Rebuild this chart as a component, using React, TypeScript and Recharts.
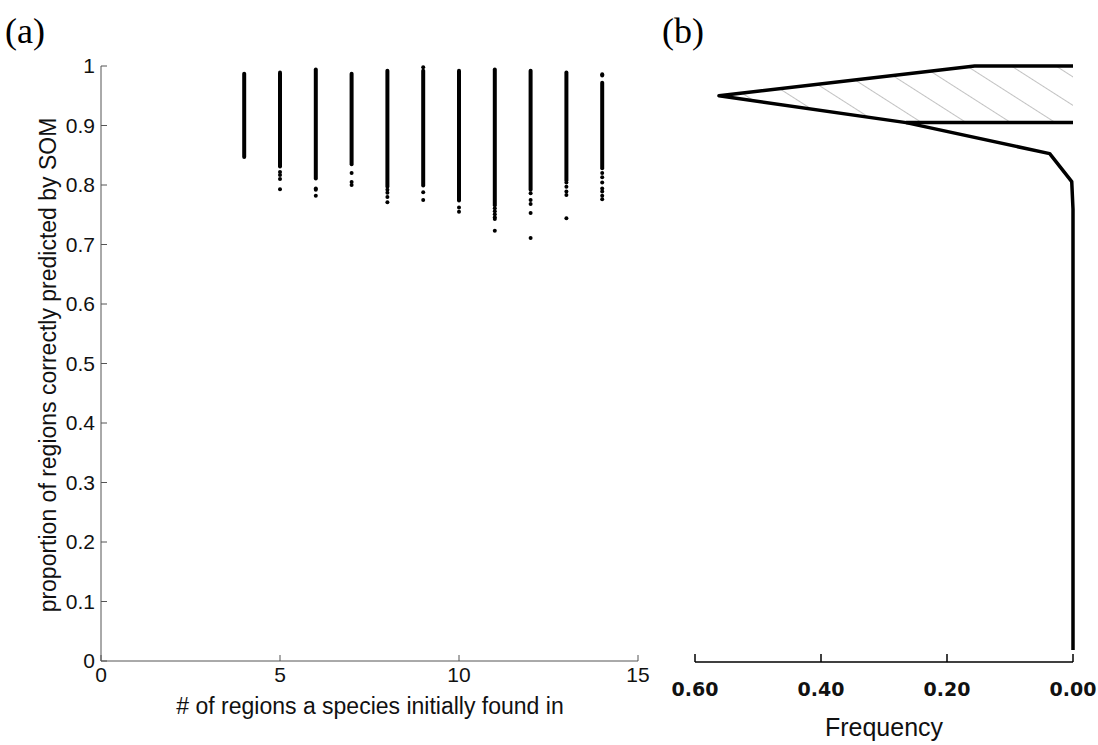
import React from 'react';
import { ScatterChart, Scatter, XAxis, YAxis } from 'recharts';

// Panel (a): species occupancy columns
const columnX = [4, 5, 6, 7, 8, 9, 10, 11, 12, 13, 14];
const columnTop = [0.987, 0.989, 0.994, 0.987, 0.992, 0.992, 0.992, 0.994, 0.992, 0.989, 0.972];
const columnBottom = [0.847, 0.831, 0.811, 0.835, 0.797, 0.799, 0.774, 0.766, 0.792, 0.808, 0.828];

const outlierX = [
  5, 5, 5, 5,
  6, 6, 6,
  7, 7, 7,
  8, 8, 8, 8,
  9, 9, 9,
  10, 10,
  11, 11, 11, 11, 11, 11,
  12, 12, 12, 12, 12,
  13, 13, 13, 13, 13,
  14, 14, 14, 14, 14, 14, 14, 14, 14,
];
const outlierY = [
  0.822, 0.817, 0.81, 0.793,
  0.794, 0.792, 0.782,
  0.82, 0.805, 0.8,
  0.792, 0.787, 0.78, 0.771,
  0.998, 0.788, 0.775,
  0.762, 0.755,
  0.761, 0.756, 0.751, 0.746, 0.743, 0.723,
  0.786, 0.775, 0.768, 0.753, 0.711,
  0.804, 0.797, 0.789, 0.783, 0.744,
  0.986, 0.984, 0.82, 0.813, 0.804, 0.794, 0.789, 0.782, 0.776,
];

const xTicksA = [0, 5, 10, 15];
const yTicksA = [0, 0.1, 0.2, 0.3, 0.4, 0.5, 0.6, 0.7, 0.8, 0.9, 1];

// Panel (b): frequency polygon
const polyFreq = [0, 0.156, 0.562, 0.265, 0.037, 0.002, 0, 0];
const polyValue = [1.0, 1.0, 0.95, 0.905, 0.853, 0.806, 0.76, 0.02];
const bandFreq = [0.265, 0];
const bandValue = [0.905, 0.905];
const hatchFreq = [0, 0.156, 0.562, 0.265, 0];
const hatchValue = [1.0, 1.0, 0.95, 0.905, 0.905];
const xTicksB = [0, 0.2, 0.4, 0.6];

const columns = columnX.map((x, i) => [
  { x, y: columnBottom[i] },
  { x, y: columnTop[i] },
]);
const outliers = outlierX.map((x, i) => ({ x, y: outlierY[i] }));
const poly = polyFreq.map((f, i) => ({ f, v: polyValue[i] }));
const band = bandFreq.map((f, i) => ({ f, v: bandValue[i] }));
const hatch = hatchFreq.map((f, i) => ({ f, v: hatchValue[i] }));

const sans = '"Liberation Sans", Arial, sans-serif';
const serif = '"Liberation Serif", "Times New Roman", serif';

const Empty = () => <g />;
const Dot = (p: any) => <circle cx={p.cx} cy={p.cy} r={2} fill="#000" />;

export default function App() {
  return (
    <div
      style={{
        position: 'absolute',
        left: 0,
        top: 0,
        width: 1098,
        height: 745,
        background: '#fff',
        fontFamily: sans,
        overflow: 'hidden',
      }}
    >
      <div style={{ position: 'absolute', left: 0, top: 0 }}>
        <ScatterChart width={660} height={745} margin={{ top: 66, right: 22, bottom: 34, left: 41 }}>
          <XAxis
            type="number"
            dataKey="x"
            domain={[0, 15]}
            ticks={xTicksA}
            height={50}
            tickSize={-6}
            tickMargin={12}
            stroke="#555"
            tick={{ fill: '#111', fontSize: 21, fontFamily: sans }}
          />
          <YAxis
            type="number"
            dataKey="y"
            domain={[0, 1]}
            ticks={yTicksA}
            width={60}
            tickSize={-6}
            tickMargin={12}
            stroke="#555"
            tick={{ fill: '#111', fontSize: 21, fontFamily: sans }}
            tickFormatter={(v: number) => String(v)}
          />
          {columns.map((d, i) => (
            <Scatter
              key={'c' + i}
              data={d}
              line={{ stroke: '#000', strokeWidth: 4, strokeLinecap: 'round' }}
              shape={Empty}
              isAnimationActive={false}
            />
          ))}
          <Scatter data={outliers} shape={Dot} fill="#000" isAnimationActive={false} />
        </ScatterChart>
      </div>

      <div style={{ position: 'absolute', left: 640, top: 0 }}>
        <ScatterChart width={458} height={745} margin={{ top: 66, right: 25, bottom: 33, left: 55 }}>
          <defs>
            <pattern
              id="hatch"
              patternUnits="userSpaceOnUse"
              width={24}
              height={10}
              patternTransform="rotate(-57.4)"
            >
              <line x1={0} y1={0} x2={0} y2={10} stroke="#c2c2c2" strokeWidth={2} />
            </pattern>
          </defs>
          <XAxis
            type="number"
            dataKey="f"
            domain={[0, 0.6]}
            reversed
            ticks={xTicksB}
            height={50}
            tickSize={-8}
            tickMargin={29}
            stroke="#000"
            strokeWidth={1.5}
            tick={{ fill: '#111', fontSize: 19, fontWeight: 'bold', fontFamily: '"DejaVu Sans", Verdana, sans-serif' }}
            tickFormatter={(v: number) => v.toFixed(2)}
          />
          <YAxis type="number" dataKey="v" domain={[0, 1]} hide />
          <Scatter
            data={hatch}
            line={{ stroke: 'none', fill: 'url(#hatch)' }}
            shape={Empty}
            isAnimationActive={false}
          />
          <Scatter
            data={poly}
            line={{ stroke: '#000', strokeWidth: 3.5, strokeLinejoin: 'round' }}
            shape={Empty}
            isAnimationActive={false}
          />
          <Scatter
            data={band}
            line={{ stroke: '#000', strokeWidth: 3.5 }}
            shape={Empty}
            isAnimationActive={false}
          />
        </ScatterChart>
      </div>

      <div style={{ position: 'absolute', left: 5, top: 13, fontFamily: serif, fontSize: 36, lineHeight: '1', color: '#000' }}>
        (a)
      </div>
      <div style={{ position: 'absolute', left: 662, top: 13, fontFamily: serif, fontSize: 36, lineHeight: '1', color: '#000' }}>
        (b)
      </div>

      <div
        style={{
          position: 'absolute',
          left: 48,
          top: 365,
          transform: 'translate(-50%, -50%) rotate(-90deg)',
          fontSize: 23,
          lineHeight: '1',
          whiteSpace: 'nowrap',
          color: '#111',
        }}
      >
        proportion of regions correctly predicted by SOM
      </div>
      <div
        style={{
          position: 'absolute',
          left: 370,
          top: 706,
          transform: 'translate(-50%, -50%)',
          fontSize: 23,
          lineHeight: '1',
          whiteSpace: 'nowrap',
          color: '#111',
        }}
      >
        # of regions a species initially found in
      </div>
      <div
        style={{
          position: 'absolute',
          left: 884,
          top: 727,
          transform: 'translate(-50%, -50%)',
          fontSize: 25,
          lineHeight: '1',
          whiteSpace: 'nowrap',
          color: '#111',
        }}
      >
        Frequency
      </div>
    </div>
  );
}
